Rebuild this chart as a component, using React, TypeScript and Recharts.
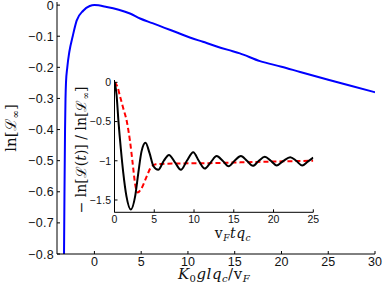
import { LineChart, Line, XAxis, YAxis } from "recharts";

// main curve: ln[L_inf] against K0 g l qc / vF
const mainX = [-3.25, -3.2, -3.14, -3.09, -3.04, -2.9, -2.68, -2.32, -1.9, -1.2, -0.5, 0, 1.32, 2.6, 3.8, 4.88, 6.2, 7.5, 8.9, 10.2, 11.6, 13, 14.3, 15.55, 17.7, 20, 22, 25, 27.5, 30];
const mainY = [-0.8, -0.6, -0.4, -0.3, -0.25, -0.2, -0.15, -0.1, -0.05, -0.018, -0.003, 0, -0.006, -0.015, -0.027, -0.043, -0.058, -0.073, -0.089, -0.104, -0.118, -0.132, -0.144, -0.155, -0.18, -0.198, -0.215, -0.24, -0.26, -0.28];
const mainXTicks = [0, 5, 10, 15, 20, 25, 30];
const mainYTicks = [-0.8, -0.7, -0.6, -0.5, -0.4, -0.3, -0.2, -0.1, 0];

// inset: -ln[L(t)] / ln[L_inf] against vF t qc
const blackT = [0, 0.25, 0.5, 0.8, 1.1, 1.5, 2.05, 2.6, 3.0, 3.4, 3.9, 4.4, 4.9, 5.5, 6.2, 6.85, 7.6, 8.35, 9.1, 9.9, 10.6, 11.35, 12.1, 12.85, 13.6, 14.35, 15.1, 15.9, 16.65, 17.4, 18.15, 18.9, 19.65, 20.4, 21.25, 22.1, 22.85, 23.6, 24.3, 25];
const blackV = [0, -0.15, -0.5, -0.85, -1.15, -1.45, -1.62, -1.45, -1.15, -0.88, -0.77, -0.9, -1.07, -1.115, -1.0, -0.925, -1.02, -1.115, -1.0, -0.89, -1.0, -1.1, -1.02, -0.94, -1.0, -1.07, -1.0, -0.94, -1.0, -1.065, -1.0, -0.95, -1.0, -1.06, -1.0, -0.955, -1.0, -1.06, -1.01, -0.96];
const redT = [0, 0.35, 0.7, 1.1, 1.55, 1.95, 2.25, 2.6, 2.9, 3.4, 4.05, 4.6, 5.2, 6, 8, 12, 16, 20, 25];
const redV = [0, -0.05, -0.18, -0.33, -0.5, -0.75, -1.0, -1.3, -1.406, -1.35, -1.2, -1.08, -1.045, -1.04, -1.035, -1.03, -1.02, -1.01, -1.0];
const insetXTicks = [0, 5, 10, 15, 20, 25];
const insetYTicks = [-1.5, -1, -0.5, 0];

const mainData = mainX.map((x, i) => ({ x, y: mainY[i] }));
const blackData = blackT.map((t, i) => ({ t, v: blackV[i] }));
const redData = redT.map((t, i) => ({ t, v: redV[i] }));

const fmt = (v: number) => (v < 0 ? "\u2212" + String(Math.abs(v)) : String(v));

const SANS = "'Liberation Sans', Arial, sans-serif";
const SERIF = "'DejaVu Serif', 'Liberation Serif', serif";

function InTick(props: any) {
  const { x, y, payload, side, len, color, showLabel, fontSize } = props;
  let line;
  let label = null;
  if (side === "bottom") {
    line = <line x1={x} x2={x} y1={y} y2={y - len} stroke={color} />;
    if (showLabel)
      label = (
        <text x={x} y={y + 2} dy="0.8em" textAnchor="middle" fontSize={fontSize} fontFamily={SANS} fill="#111">
          {fmt(payload.value)}
        </text>
      );
  } else if (side === "top") {
    line = <line x1={x} x2={x} y1={y} y2={y + len} stroke={color} />;
  } else if (side === "left") {
    line = <line x1={x} x2={x + len} y1={y} y2={y} stroke={color} />;
    if (showLabel)
      label = (
        <text x={x - 3} y={y} dy="0.36em" textAnchor="end" fontSize={fontSize} fontFamily={SANS} fill="#111" letterSpacing={0.3}>
          {fmt(payload.value)}
        </text>
      );
  } else {
    line = <line x1={x} x2={x - len} y1={y} y2={y} stroke={color} />;
  }
  return (
    <g>
      {line}
      {label}
    </g>
  );
}

function MainXTitle() {
  return (
    <text x={214} y={279} textAnchor="middle" fontFamily={SERIF} fontSize={15} fill="#111" letterSpacing={0.5}>
      <tspan fontStyle="italic">K</tspan>
      <tspan fontSize={10} dy={3}>0</tspan>
      <tspan fontStyle="italic" dy={-3}>glq</tspan>
      <tspan fontStyle="italic" fontSize={10} dy={3}>c</tspan>
      <tspan dy={-3}>/v</tspan>
      <tspan fontStyle="italic" fontSize={10} dy={3}>F</tspan>
    </text>
  );
}

function MainYTitle() {
  const cx = 16;
  const cy = 128;
  return (
    <text x={cx} y={cy} textAnchor="middle" fontFamily={SERIF} fontSize={15} fill="#111" transform={`rotate(-90 ${cx} ${cy})`}>
      <tspan>ln[ℒ</tspan>
      <tspan fontSize={10} dy={3}>∞</tspan>
      <tspan dy={-3}>]</tspan>
    </text>
  );
}

function InsetXTitle() {
  return (
    <text x={233} y={238} textAnchor="middle" fontFamily={SERIF} fontSize={14} fill="#111" letterSpacing={0.5}>
      <tspan>v</tspan>
      <tspan fontStyle="italic" fontSize={9} dy={3}>F</tspan>
      <tspan fontStyle="italic" dy={-3}>tq</tspan>
      <tspan fontStyle="italic" fontSize={9} dy={3}>c</tspan>
    </text>
  );
}

function InsetYTitle() {
  const cx = 86;
  const cy = 150;
  return (
    <text x={cx} y={cy} textAnchor="middle" fontFamily={SERIF} fontSize={14} fill="#111" transform={`rotate(-90 ${cx} ${cy})`}>
      <tspan>− ln[ℒ(</tspan>
      <tspan fontStyle="italic">t</tspan>
      <tspan>)] / ln[ℒ</tspan>
      <tspan fontSize={9} dy={3}>∞</tspan>
      <tspan dy={-3}>]</tspan>
    </text>
  );
}

const W = 383;
const H = 293;

export default function App() {
  return (
    <div style={{ position: "absolute", left: 0, top: 0, width: W, height: H, background: "#fff" }}>
      <div style={{ position: "absolute", left: 0, top: 0 }}>
        <LineChart width={W} height={H} data={mainData} margin={{ top: 2, right: 8, bottom: 0, left: 0 }}>
          <XAxis
            dataKey="x"
            type="number"
            domain={[-4, 30]}
            ticks={mainXTicks}
            interval={0}
            allowDataOverflow
            height={39}
            tickSize={0}
            tickMargin={0}
            axisLine={{ stroke: "#000" }}
            tick={<InTick side="bottom" len={3} color="#000" showLabel fontSize={12.5} />}
            label={{ content: () => <MainXTitle /> }}
          />
          <XAxis
            xAxisId="top"
            orientation="top"
            dataKey="x"
            type="number"
            domain={[-4, 30]}
            ticks={mainXTicks}
            interval={0}
            allowDataOverflow
            height={0}
            tickSize={0}
            tickMargin={0}
            axisLine={{ stroke: "#8c8c8c" }}
            tick={<InTick side="top" len={3} color="#8c8c8c" />}
          />
          <YAxis
            type="number"
            domain={[-0.8, 0.01]}
            ticks={mainYTicks}
            interval={0}
            allowDataOverflow
            width={57}
            tickSize={0}
            tickMargin={0}
            axisLine={{ stroke: "#000" }}
            tick={<InTick side="left" len={3} color="#000" showLabel fontSize={12.5} />}
            label={{ content: () => <MainYTitle /> }}
          />
          <YAxis
            yAxisId="right"
            orientation="right"
            type="number"
            domain={[-0.8, 0.01]}
            ticks={mainYTicks}
            interval={0}
            allowDataOverflow
            width={0}
            tickSize={0}
            tickMargin={0}
            axisLine={{ stroke: "#8c8c8c" }}
            tick={<InTick side="right" len={3} color="#8c8c8c" />}
          />
          <Line type="monotone" dataKey="y" stroke="#0000ff" strokeWidth={2} dot={false} isAnimationActive={false} />
        </LineChart>
      </div>
      <div style={{ position: "absolute", left: 0, top: 0 }}>
        <LineChart width={W} height={H} margin={{ top: 80, right: 69.7, bottom: 0, left: 0 }}>
          <XAxis
            dataKey="t"
            type="number"
            domain={[0, 25]}
            ticks={insetXTicks}
            interval={0}
            allowDataOverflow
            height={80.7}
            tickSize={0}
            tickMargin={0}
            axisLine={{ stroke: "#000" }}
            tick={<InTick side="bottom" len={3} color="#000" showLabel fontSize={10.5} />}
            label={{ content: () => <InsetXTitle /> }}
          />
          <XAxis
            xAxisId="top"
            orientation="top"
            dataKey="t"
            type="number"
            domain={[0, 25]}
            ticks={insetXTicks}
            interval={0}
            allowDataOverflow
            height={0}
            tickSize={0}
            tickMargin={0}
            axisLine={{ stroke: "#8c8c8c" }}
            tick={<InTick side="top" len={3} color="#8c8c8c" />}
          />
          <YAxis
            type="number"
            domain={[-1.657, 0.03]}
            ticks={insetYTicks}
            interval={0}
            allowDataOverflow
            width={114.5}
            tickSize={0}
            tickMargin={0}
            axisLine={{ stroke: "#000" }}
            tick={<InTick side="left" len={3} color="#000" showLabel fontSize={10.5} />}
            label={{ content: () => <InsetYTitle /> }}
          />
          <YAxis
            yAxisId="right"
            orientation="right"
            type="number"
            domain={[-1.657, 0.03]}
            ticks={insetYTicks}
            interval={0}
            allowDataOverflow
            width={0}
            tickSize={0}
            tickMargin={0}
            axisLine={{ stroke: "#8c8c8c" }}
            tick={<InTick side="right" len={3} color="#8c8c8c" />}
          />
          <Line data={redData} type="monotone" dataKey="v" stroke="#ff0000" strokeWidth={2} strokeDasharray="5 3" dot={false} isAnimationActive={false} />
          <Line data={blackData} type="monotone" dataKey="v" stroke="#000" strokeWidth={2} dot={false} isAnimationActive={false} />
        </LineChart>
      </div>
    </div>
  );
}
